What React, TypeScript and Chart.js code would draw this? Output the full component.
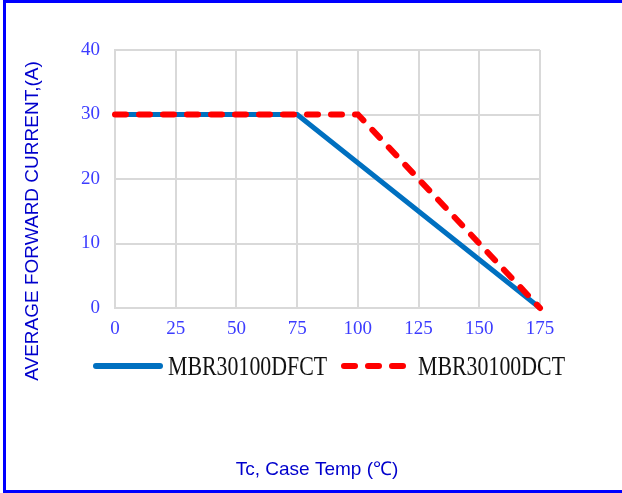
import React, { useEffect, useRef } from "react";
import { Chart, registerables } from "chart.js";

Chart.register(...registerables);

// Data
const dfctTemp = [0, 75, 175];
const dfctCurrent = [30, 30, 0];
const dctTemp = [0, 100, 175];
const dctCurrent = [30, 30, 0];
const seriesNames = ["MBR30100DFCT", "MBR30100DCT"];
const xTitle = "Tc, Case Temp (℃)";
const yTitle = "AVERAGE FORWARD CURRENT,(A)";

const BLUE = "#0070c0";
const RED = "#ff0000";

const overlayPlugin = {
  id: "overlay",
  afterDraw(chart: any) {
    const ctx = chart.ctx as CanvasRenderingContext2D;
    const ds = chart.data.datasets;
    // Legend
    const lineStarts = [96, 344];
    const lineEnds = [160, 404];
    const textX = [168, 418];
    const legendY = 366;
    ds.forEach((d: any, i: number) => {
      ctx.save();
      ctx.strokeStyle = d.borderColor;
      ctx.lineWidth = 6;
      ctx.lineCap = "round";
      ctx.setLineDash(d.borderDash || []);
      ctx.beginPath();
      ctx.moveTo(lineStarts[i], legendY);
      ctx.lineTo(lineEnds[i], legendY);
      ctx.stroke();
      ctx.restore();

      ctx.save();
      ctx.font = '27px "Liberation Serif"';
      ctx.fillStyle = "#111111";
      ctx.textBaseline = "alphabetic";
      ctx.textAlign = "left";
      ctx.translate(textX[i], 375);
      ctx.scale(0.81, 1);
      ctx.fillText(d.label, 0, 0);
      ctx.restore();
    });

    // X title
    ctx.save();
    ctx.font = '19px "Liberation Sans"';
    ctx.fillStyle = "#0000cc";
    ctx.textAlign = "center";
    ctx.textBaseline = "alphabetic";
    ctx.fillText(xTitle, 317, 475);
    ctx.restore();

    // Y title
    ctx.save();
    ctx.font = '19px "Liberation Sans"';
    ctx.fillStyle = "#0000cc";
    ctx.textAlign = "center";
    ctx.textBaseline = "alphabetic";
    ctx.translate(38, 221);
    ctx.rotate(-Math.PI / 2);
    ctx.fillText(yTitle, 0, 0);
    ctx.restore();
  },
};

export default function App() {
  const ref = useRef<HTMLCanvasElement>(null);

  useEffect(() => {
    if (!ref.current) return;
    const chart = new Chart(ref.current, {
      type: "line",
      data: {
        datasets: [
          {
            label: seriesNames[0],
            data: dfctTemp.map((t, i) => ({ x: t, y: dfctCurrent[i] })),
            borderColor: BLUE,
            backgroundColor: BLUE,
            borderWidth: 5,
            pointRadius: 0,
            tension: 0,
            order: 1,
            clip: false,
          } as any,
          {
            label: seriesNames[1],
            data: dctTemp.map((t, i) => ({ x: t, y: dctCurrent[i] })),
            borderColor: RED,
            backgroundColor: RED,
            borderWidth: 6,
            borderDash: [11, 13],
            borderCapStyle: "round",
            pointRadius: 0,
            tension: 0,
            order: 0,
            clip: false,
          } as any,
        ],
      },
      options: {
        animation: false,
        responsive: false,
        maintainAspectRatio: false,
        layout: { padding: { top: 50, right: 82, left: 0, bottom: 0 } },
        plugins: {
          legend: { display: false },
          tooltip: { enabled: false },
        },
        scales: {
          x: {
            type: "linear",
            min: 0,
            max: 175,
            ticks: {
              stepSize: 25,
              color: "#3c3cff",
              font: { family: "Liberation Serif", size: 19 },
              padding: 10,
              maxRotation: 0,
            },
            grid: { color: "#d9d9d9", lineWidth: 2, drawTicks: false },
            border: { color: "#d9d9d9", width: 2 },
            afterFit: (scale: any) => {
              scale.height = 185;
            },
          },
          y: {
            type: "linear",
            min: 0,
            max: 40,
            ticks: {
              stepSize: 10,
              color: "#3c3cff",
              font: { family: "Liberation Serif", size: 19 },
              padding: 15,
            },
            grid: { color: "#d9d9d9", lineWidth: 2, drawTicks: false },
            border: { color: "#d9d9d9", width: 2 },
            afterFit: (scale: any) => {
              scale.width = 115;
            },
          },
        },
      } as any,
      plugins: [overlayPlugin],
    });
    return () => chart.destroy();
  }, []);

  return (
    <div
      style={{
        position: "fixed",
        left: 0,
        top: 0,
        width: 622,
        height: 493,
        overflow: "hidden",
        background: "#fff",
      }}
    >
      <div
        style={{
          position: "absolute",
          left: 3,
          top: 0,
          width: 700,
          height: 493,
          boxSizing: "border-box",
          border: "3px solid #0000ff",
        }}
      />
      <canvas
        ref={ref}
        width={622}
        height={493}
        style={{ position: "absolute", left: 0, top: 0, width: 622, height: 493 }}
      />
    </div>
  );
}
